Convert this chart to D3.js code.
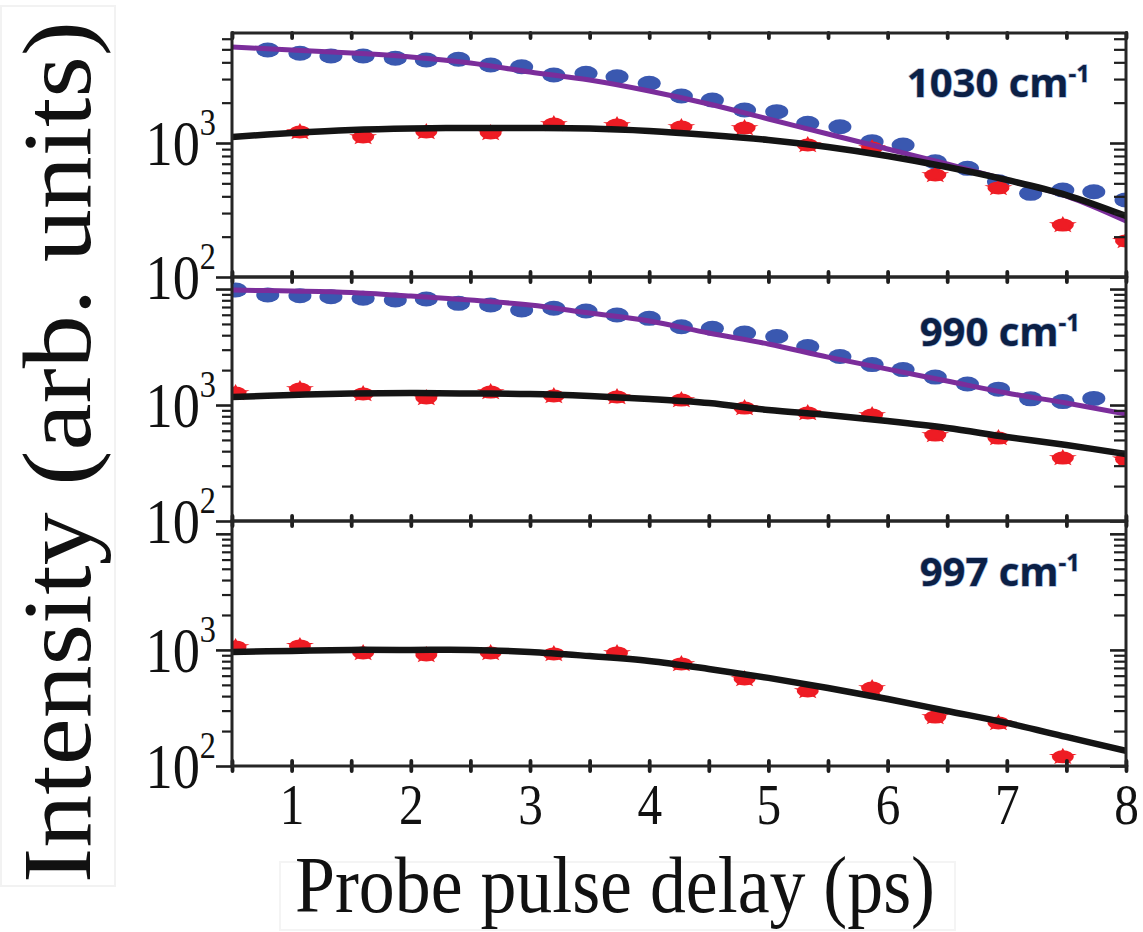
<!DOCTYPE html>
<html>
<head>
<meta charset="utf-8">
<script src="https://cdn.jsdelivr.net/npm/d3@7"></script>
<style>
  body { margin: 0; background: #fff; }
  svg { display: block; }
</style>
</head>
<body>
<div id="chart"></div>
<script>
// sampled delays (ps)
const redX = [0.53, 1.07, 1.6, 2.13, 2.67, 3.2, 3.73, 4.27, 4.8, 5.33, 5.87, 6.4, 6.93, 7.47, 8.0];
const blueX = [0.53, 0.8, 1.07, 1.33, 1.6, 1.87, 2.13, 2.4, 2.67, 2.93, 3.2, 3.47, 3.73, 4.0, 4.27,
  4.53, 4.8, 5.07, 5.33, 5.6, 5.87, 6.13, 6.4, 6.67, 6.93, 7.2, 7.47, 7.73, 8.0];
const fitX = [0.5, 1, 1.5, 2, 2.5, 3, 3.5, 4, 4.5, 5, 5.5, 6, 6.5, 7, 7.5, 8];
const xTickLabels = [1, 2, 3, 4, 5, 6, 7, 8];
const yTickLabels = [100, 1000];
const bandLabels = ["1030", "990", "997"];

// 1030 cm-1
const red1030 = [null, 1208, 1109, 1208, 1188, 1386, 1362, 1316, 1294, 966, 918, 577, 462, 244, 186];
const blue1030 = [null, 4943, 4670, 4459, 4459, 4285, 4161, 4217, 3821, 3708, 3215, 3311, 3125, 2790, 2243,
  2094, 1763, 1713, 1403, 1323, 1023, 966, 725, 647, 514, 421, 446, 433, 376];
const fitRed1030 = [1109, 1187, 1250, 1283, 1294, 1294, 1283, 1230, 1148, 1053, 934, 800, 662, 530, 409, 285];
const fitBlue1030 = [5204, 4945, 4696, 4385, 3954, 3388, 2951, 2444, 1955, 1511, 1168, 902, 697, 530, 402, 262];

// 990 cm-1
const red990 = [1269, 1374, 1244, 1149, 1294, 1196, 1172, 1104, 942, 853, 820, 551, 519, 349, 340];
const blue990 = [9800, 8880, 8750, 8590, 8320, 8040, 8200, 7530, 7280, 6590, 6820, 6460, 5970, 5590, 4730,
  4580, 4180, 3900, 3190, 2620, 2230, 2020, 1740, 1520, 1370, 1130, 1070, 1140, null];
const fitRed990 = [1172, 1220, 1257, 1269, 1257, 1244, 1196, 1127, 1040, 905, 820, 728, 634, 530, 452, 378];
const fitBlue990 = [9800, 9610, 9330, 8700, 8040, 7280, 6210, 5300, 4180, 3360, 2590, 2040, 1610, 1270, 1040, 836];

// 997 cm-1
const red997 = [1061, 1083, 942, 906, 942, 924, 942, 757, 562, 443, 470, 264, 235, 120, null];
const fitRed997 = [961, 980, 1000, 1000, 1000, 961, 885, 803, 686, 574, 470, 378, 298, 235, 178, 135];

const W = 1143, H = 932;
const left = 232, right = 1126;

const panels = [
  { label: bandLabels[0], red: red1030, blue: blue1030, fitRed: fitRed1030, fitBlue: fitBlue1030,
    top: 33, bottom: 277, yMax: 6620, labelX: 1090, labelY: 97 },
  { label: bandLabels[1], red: red990, blue: blue990, fitRed: fitRed990, fitBlue: fitBlue990,
    top: 277, bottom: 521, yMax: 12700, labelX: 1080, labelY: 346 },
  { label: bandLabels[2], red: red997, blue: null, fitRed: fitRed997, fitBlue: null,
    top: 521, bottom: 766, yMax: 12900, labelX: 1080, labelY: 586 }
];

const svg = d3.select("#chart").append("svg").attr("width", W).attr("height", H);
svg.append("rect").attr("width", W).attr("height", H).attr("fill", "#fff");
const defs = svg.append("defs");

// faint boxes left over from the pasted labels
svg.append("rect").attr("x", 1).attr("y", 6).attr("width", 114).attr("height", 880)
  .attr("fill", "none").attr("stroke", "#f2f2f2").attr("stroke-width", 2);
svg.append("rect").attr("x", 280).attr("y", 862).attr("width", 675).attr("height", 68)
  .attr("fill", "none").attr("stroke", "#f4f4f4").attr("stroke-width", 2);

const x = d3.scaleLinear().domain([0.5, 8]).range([left, right]);
const xTicks = x.ticks(15);
const isMajor = v => Math.abs(Math.log10(v) - Math.round(Math.log10(v))) < 1e-9;

function styleAxis(sel, width, cap) {
  sel.select(".domain").remove();
  sel.selectAll(".tick line").attr("stroke", "#1e1e1e").attr("stroke-width", width)
    .attr("stroke-linecap", cap);
}

panels.forEach((p, i) => {
  const y = d3.scaleLog().domain([100, p.yMax]).range([p.bottom, p.top]);
  const g = svg.append("g");

  defs.append("clipPath").attr("id", `clip${i}`).append("rect")
    .attr("x", left).attr("y", p.top).attr("width", right - left).attr("height", p.bottom - p.top);
  const data = g.append("g").attr("clip-path", `url(#clip${i})`);

  // blue markers
  if (p.blue) {
    data.selectAll(".blue").data(blueX.map((d, j) => ({ x: d, v: p.blue[j] })).filter(d => d.v != null))
      .join("ellipse").attr("class", "blue")
      .attr("cx", d => x(d.x)).attr("cy", d => y(d.v))
      .attr("rx", 11.5).attr("ry", 7.5).attr("fill", "#3a58b0");
  }

  // red markers
  const reds = data.selectAll(".red").data(redX.map((d, j) => ({ x: d, v: p.red[j] })).filter(d => d.v != null))
    .join("g").attr("class", "red")
    .attr("transform", d => `translate(${x(d.x)},${y(d.v)})`);
  reds.append("ellipse").attr("rx", 11).attr("ry", 6.5).attr("fill", "#ee1c24");
  reds.append("path").attr("d", d3.symbol(d3.symbolStar, 135)())
    .attr("transform", "scale(1.35,0.82)").attr("fill", "#ee1c24");

  const line = d3.line().x(d => x(d.x)).y(d => y(d.v)).curve(d3.curveCatmullRom);

  if (p.fitBlue) {
    data.append("path").datum(fitX.map((d, j) => ({ x: d, v: p.fitBlue[j] })))
      .attr("d", line).attr("fill", "none").attr("stroke", "#7b2d9b").attr("stroke-width", 5);
  }
  data.append("path").datum(fitX.map((d, j) => ({ x: d, v: p.fitRed[j] })))
    .attr("d", line).attr("fill", "none").attr("stroke", "#141414").attr("stroke-width", 6.5);

  // y ticks: left outward, right inward
  const yt = y.ticks();
  const minor = yt.filter(v => !isMajor(v)), major = yt.filter(isMajor);
  g.append("g").attr("transform", `translate(${left},0)`)
    .call(d3.axisLeft(y).tickValues(minor).tickSize(10).tickFormat(""))
    .call(styleAxis, 2.2, "butt");
  g.append("g").attr("transform", `translate(${left},0)`)
    .call(d3.axisLeft(y).tickValues(major).tickSize(16).tickFormat(""))
    .call(styleAxis, 2.6, "butt");
  g.append("g").attr("transform", `translate(${right},0)`)
    .call(d3.axisLeft(y).tickValues(minor).tickSize(12).tickFormat(""))
    .call(styleAxis, 2.2, "butt");
  g.append("g").attr("transform", `translate(${right},0)`)
    .call(d3.axisLeft(y).tickValues(major).tickSize(16).tickFormat(""))
    .call(styleAxis, 2.6, "butt");

  // x ticks, inward at top and bottom
  g.append("g").attr("transform", `translate(0,${p.top})`)
    .call(d3.axisBottom(x).tickValues(xTicks).tickSize(5).tickFormat(""))
    .call(styleAxis, 3.8, "round");
  g.append("g").attr("transform", `translate(0,${p.bottom})`)
    .call(d3.axisTop(x).tickValues(xTicks).tickSize(5).tickFormat(""))
    .call(styleAxis, 3.8, "round");
  if (i === panels.length - 1) {
    g.append("g").attr("transform", `translate(0,${p.bottom})`)
      .call(d3.axisBottom(x).tickValues(xTicks).tickSize(5).tickFormat(""))
      .call(styleAxis, 3.8, "round");
  }

  // frame
  g.append("rect").attr("x", left).attr("y", p.top).attr("width", right - left).attr("height", p.bottom - p.top)
    .attr("fill", "none").attr("stroke", "#262626").attr("stroke-width", 3);

  // y tick labels 10^n
  yTickLabels.forEach(v => {
    const t = svg.append("text")
      .attr("transform", `translate(216,${y(v)}) scale(0.85,1)`)
      .attr("y", 22).attr("text-anchor", "end")
      .style("font-family", "'Liberation Serif', 'Times New Roman', serif")
      .style("font-size", "64px").attr("fill", "#111");
    t.append("tspan").text("10");
    t.append("tspan").attr("dy", -30).style("font-size", "38px").text(Math.round(Math.log10(v)));
  });

  // band label
  const lab = svg.append("text").attr("x", p.labelX).attr("y", p.labelY).attr("text-anchor", "end")
    .style("font-family", "'Open Sans', sans-serif").style("font-weight", 700).style("font-size", "40px")
    .attr("fill", "#0b2046").attr("stroke", "#6d8cc0").attr("stroke-width", 1.4)
    .attr("stroke-opacity", 0.6).style("paint-order", "stroke");
  lab.append("tspan").text(`${p.label} cm`);
  lab.append("tspan").attr("dy", -15).style("font-size", "24px").text("-1");
});

// x tick labels
const xAxisG = svg.append("g").attr("transform", `translate(0,${panels[2].bottom})`)
  .call(d3.axisBottom(x).tickValues(xTickLabels).tickSize(0).tickPadding(17).tickFormat(d3.format("d")));
xAxisG.select(".domain").remove();
xAxisG.selectAll("text")
  .style("font-family", "'Liberation Serif', 'Times New Roman', serif")
  .style("font-size", "58px").attr("fill", "#111")
  .attr("transform", "scale(0.85,1)");

// axis titles
svg.append("text").attr("x", 615).attr("y", 912).attr("text-anchor", "middle")
  .attr("textLength", 640).attr("lengthAdjust", "spacingAndGlyphs")
  .style("font-family", "'Liberation Serif', 'Times New Roman', serif").style("font-size", "80px")
  .attr("fill", "#111").text("Probe pulse delay (ps)");

svg.append("text").attr("transform", "translate(90,452) rotate(-90)").attr("text-anchor", "middle")
  .attr("textLength", 862).attr("lengthAdjust", "spacingAndGlyphs")
  .style("font-family", "'Liberation Serif', 'Times New Roman', serif").style("font-size", "98px")
  .attr("fill", "#111").text("Intensity (arb. units)");
</script>
</body>
</html>
